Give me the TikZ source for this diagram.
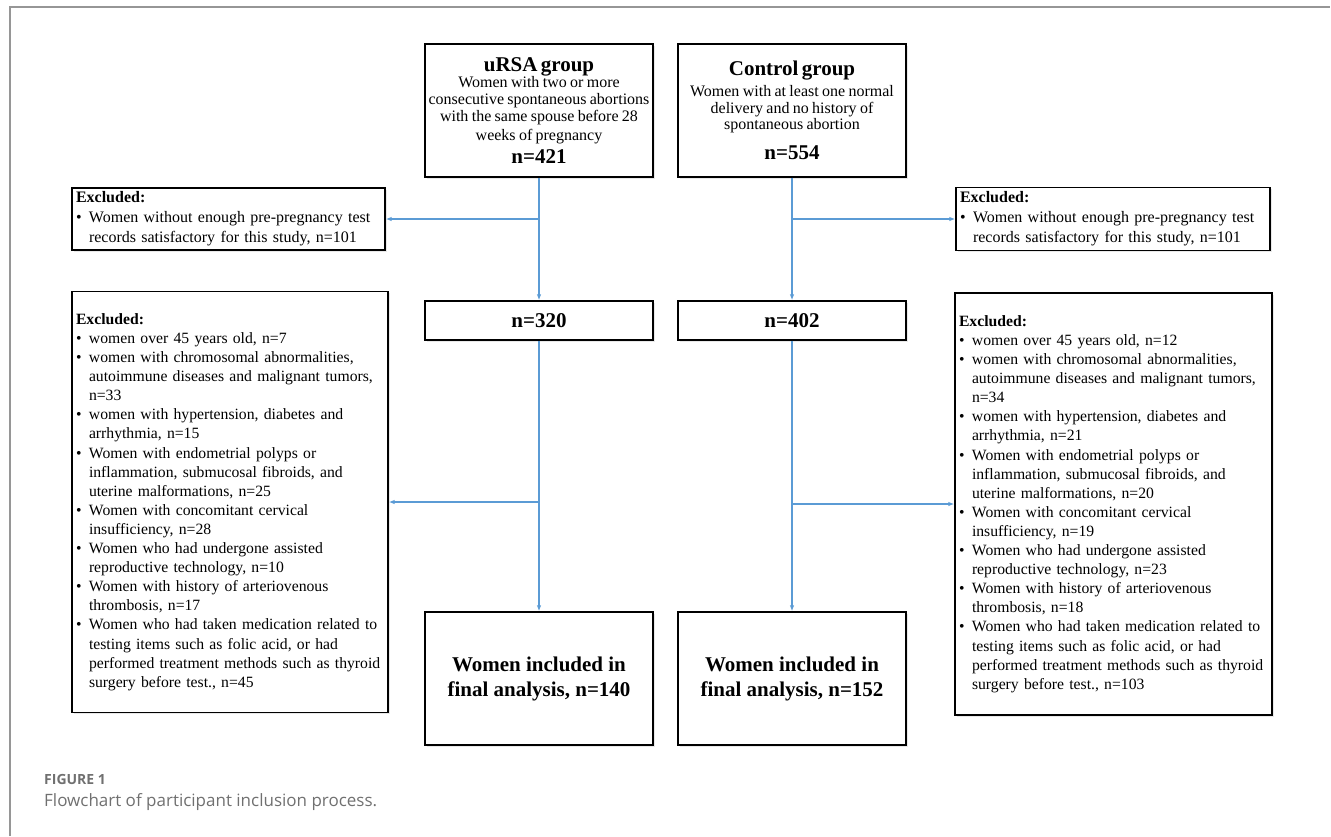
\documentclass[tikz,border=0pt]{standalone}
\usepackage{fontspec}
\setmainfont{Liberation Serif}
\newfontfamily\capfont{Open Sans}
\usepackage{xcolor}
\usetikzlibrary{
	positioning,    % relative placement
	arrows.meta,    % arrow tips
	calc,           % coordinate calculations
	shadows         % soft shadow behind the boxes
}

\definecolor{linkblue}{RGB}{91,155,213}
\definecolor{framegray}{RGB}{150,150,150}
\definecolor{capgray}{RGB}{112,112,112}

% Font sizes used in the boxes
\newcommand{\titlefont}{\fontsize{21}{23}\selectfont\bfseries}
\newcommand{\bodyfont}{\fontsize{16}{16.7}\selectfont}
\newcommand{\finalfont}{\fontsize{21}{25}\selectfont\bfseries}
% Bullet point with hanging indent
\newcommand{\bpoint}{\par\hangindent=13pt\hangafter=1\noindent\makebox[13pt][l]{\textbullet}}

\tikzset{
	box/.style={draw, line width=1.3pt, fill=white,
		drop shadow={opacity=0.18, shadow xshift=1.5pt, shadow yshift=-1.5pt}},
	groupbox/.style={box, minimum width=228pt, minimum height=133pt,
		text width=224pt, align=center, inner sep=2pt},
	countbox/.style={box, minimum width=228pt, minimum height=39pt, inner sep=0pt,
		font=\titlefont},
	finalbox/.style={box, minimum width=228pt, minimum height=133pt, align=center,
		font=\finalfont},
	exclbox/.style={box, align=left, inner xsep=4pt, inner ysep=1pt,
		font=\fontsize{15.7}{19.1}\selectfont},
	link/.style={linkblue, line width=1.4pt, -{Latex[length=6pt,width=4.5pt]}}
}

\begin{document}
\begin{tikzpicture}[x=1pt, y=-1pt]
		\useasboundingbox (0,0) rectangle (1331,836);
		
		% --- Page frame ---
		\draw[framegray, line width=1.5pt] (10,836) -- (10,7) -- (1330,7);
		
		% --- Groups ---
		\node[groupbox] (ursa) at (539,110.5) {%
			{\titlefont uRSA group\par}
			{\bodyfont Women with two or more\\ consecutive spontaneous abortions\\ with the same spouse before 28\\[3pt] weeks of pregnancy\par}
			{\titlefont n=421\par}};
		\node[groupbox] (ctrl) at (792,110.5) {%
			{\titlefont Control group\par}
			\vspace{4pt}
			{\bodyfont Women with at least one normal\\ delivery and no history of\\ spontaneous abortion\par}
			\vspace{7pt}
			{\titlefont n=554\par}};
		
		% --- First exclusion ---
		\node[exclbox, text width=305pt, minimum height=62pt, font=\fontsize{16}{20}\selectfont] (exclA) at (228.5,219) {%
			\textbf{Excluded:}
			\bpoint Women without enough pre-pregnancy test\newline records satisfactory for this study, n=101\par};
		\node[exclbox, text width=306pt, minimum height=63pt, font=\fontsize{16}{20}\selectfont] (exclB) at (1113,219) {%
			\textbf{Excluded:}
			\bpoint Women without enough pre-pregnancy test\newline records satisfactory for this study, n=101\par};
		
		% --- Counts after first exclusion ---
		\node[countbox] (urn) at (539,320.5) {n=320};
		\node[countbox] (ctn) at (792,320.5) {n=402};
		
		% --- Second exclusion ---
		\node[exclbox, text width=308pt, minimum height=421pt] (exclC) at (230,502) {%
			\textbf{Excluded:}
			\bpoint women over 45 years old, n=7
			\bpoint women with chromosomal abnormalities,\newline \mbox{autoimmune diseases and malignant tumors,}\newline n=33
			\bpoint women with hypertension, diabetes and\newline arrhythmia, n=15
			\bpoint Women with endometrial polyps or\newline inflammation, submucosal fibroids, and\newline uterine malformations, n=25
			\bpoint Women with concomitant cervical\newline insufficiency, n=28
			\bpoint Women who had undergone assisted\newline reproductive technology, n=10
			\bpoint Women with history of arteriovenous\newline thrombosis, n=17
			\bpoint \mbox{Women who had taken medication related to}\newline testing items such as folic acid, or had\newline \mbox{performed treatment methods such as thyroid}\newline surgery before test., n=45\par};
		\node[exclbox, text width=309pt, minimum height=422pt] (exclD) at (1113.5,504) {%
			\textbf{Excluded:}
			\bpoint women over 45 years old, n=12
			\bpoint women with chromosomal abnormalities,\newline \mbox{autoimmune diseases and malignant tumors,}\newline n=34
			\bpoint women with hypertension, diabetes and\newline arrhythmia, n=21
			\bpoint Women with endometrial polyps or\newline inflammation, submucosal fibroids, and\newline uterine malformations, n=20
			\bpoint Women with concomitant cervical\newline insufficiency, n=19
			\bpoint Women who had undergone assisted\newline reproductive technology, n=23
			\bpoint Women with history of arteriovenous\newline thrombosis, n=18
			\bpoint \mbox{Women who had taken medication related to}\newline testing items such as folic acid, or had\newline \mbox{performed treatment methods such as thyroid}\newline surgery before test., n=103\par};
		
		% --- Final analysis ---
		\node[finalbox] (urfin) at (539,678.5) {Women included in\\ final analysis, n=140};
		\node[finalbox] (ctfin) at (792,678.5) {Women included in\\ final analysis, n=152};
		
		% --- Connectors ---
		\coordinate (ursaA) at (ursa.south |- exclA.east);
		\coordinate (ctrlB) at (ctrl.south |- exclB.west);
		\coordinate (urnC) at (urn.south |- exclC.east);
		\coordinate (ctnD) at (ctn.south |- exclD.west);
		\draw[link] (ursa.south) -- (urn.north);
		\draw[link] (ursaA) -- (exclA.east);
		\draw[link] (ctrl.south) -- (ctn.north);
		\draw[link] (ctrlB) -- (exclB.west);
		\draw[link] (urn.south) -- (urfin.north);
		\draw[link] (urnC) -- (exclC.east);
		\draw[link] (ctn.south) -- (ctfin.north);
		\draw[link] (ctnD) -- (exclD.west);
		
		% --- Caption ---
		\node[anchor=west, inner sep=0pt, text=capgray, font=\capfont\bfseries\fontsize{14}{16}\selectfont] (figlabel) at (44,779) {FIGURE 1};
		\node[anchor=west, inner sep=0pt, text=capgray, font=\capfont\fontsize{17}{20}\selectfont] (figtext) at (44,802) {Flowchart of participant inclusion process.};
	\end{tikzpicture}
\end{document}
